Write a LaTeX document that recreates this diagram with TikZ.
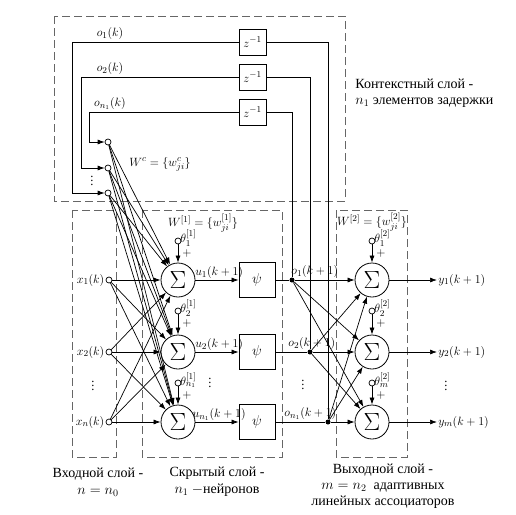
\documentclass[tikz,border=0pt]{standalone}
\usepackage{fontspec}
\setmainfont{Liberation Serif}
\usetikzlibrary{arrows.meta,calc}
\begin{document}
\begin{tikzpicture}[x=1pt,y=-1pt,
  font=\fontsize{12.5}{15}\selectfont,
  every path/.style={line width=0.7pt},
  dbox/.style={draw=black!60, line width=0.9pt, dash pattern=on 8pt off 4pt},
  sumn/.style={circle, draw, line width=0.8pt, minimum size=34pt, inner sep=0pt, fill=white, font=\fontsize{25}{25}\selectfont},
  blk/.style={draw, line width=0.8pt, minimum width=36pt, minimum height=35pt, inner sep=0pt, fill=white, font=\fontsize{14}{14}\selectfont},
  zbox/.style={draw, line width=0.8pt, minimum width=27pt, minimum height=26pt, inner sep=0pt, fill=white},
  inp/.style={circle, draw, line width=0.7pt, minimum size=6pt, inner sep=0pt, fill=white},
  jn/.style={circle, fill, minimum size=5pt, inner sep=0pt},
  arr/.style={-{Latex[length=7pt,width=5pt]}},
  lbl/.style={inner sep=1pt},
  captxt/.style={inner sep=1pt, font=\fontsize{14}{16}\selectfont},
  dts/.style={inner sep=0pt}
]
\useasboundingbox (0,0) rectangle (516,514);

% dashed layer boxes
\draw[dbox] (54,16) rectangle (345,201);
\draw[dbox] (72,210) rectangle (116,457);
\draw[dbox] (142,210) rectangle (282,457);
\draw[dbox] (336,210) rectangle (407,457);

% nodes
\node[zbox] (zb1) at (252.5,42) {$z^{-1}$};
\node[zbox] (zb2) at (252.5,77) {$z^{-1}$};
\node[zbox] (zb3) at (252.5,112) {$z^{-1}$};

\node[inp] (c1) at (108,142) {};
\node[inp] (c2) at (108,168) {};
\node[inp] (c3) at (108,193) {};

\node[inp] (x1) at (109,280) {};
\node[inp] (x2) at (109,352) {};
\node[inp] (x3) at (109,422) {};

\node[sumn] (hs1) at (178,280) {$\Sigma$};
\node[sumn] (hs2) at (178,352) {$\Sigma$};
\node[sumn] (hs3) at (178,422) {$\Sigma$};

\node[inp] (hb1) at (178,241) {};
\node[inp] (hb2) at (178,311) {};
\node[inp] (hb3) at (178,383) {};

\node[blk] (ps1) at (257,280) {$\psi$};
\node[blk] (ps2) at (257,352) {$\psi$};
\node[blk] (ps3) at (257,422) {$\psi$};

\node[jn] (j1) at (292,280) {};
\node[jn] (j2) at (310,352) {};
\node[jn] (j3) at (328,422) {};

\node[sumn] (os1) at (372,280) {$\Sigma$};
\node[sumn] (os2) at (372,352) {$\Sigma$};
\node[sumn] (os3) at (372,422) {$\Sigma$};

\node[inp] (ob1) at (372,241) {};
\node[inp] (ob2) at (372,311) {};
\node[inp] (ob3) at (372,383) {};

\node[anchor=west, lbl] (y1) at (437,280) {$y_1(k+1)$};
\node[anchor=west, lbl] (y2) at (437,352) {$y_2(k+1)$};
\node[anchor=west, lbl] (y3) at (437,422) {$y_m(k+1)$};

% context feedback lines
\draw[arr] (zb1.west) -| ([xshift=-36pt]c3.center) -- (c3);
\draw[arr] (zb2.west) -| ([xshift=-27pt]c2.center) -- (c2);
\draw[arr] (zb3.west) -| ([xshift=-19pt]c1.center) -- (c1);
\draw (zb1.east) -| (j3);
\draw (zb2.east) -| (j2);
\draw (zb3.east) -| (j1);

\node[anchor=south, lbl] (lo1) at (110,41) {$o_1(k)$};
\node[anchor=south, lbl] (lo2) at (110,76) {$o_2(k)$};
\node[anchor=south, lbl] (lo3) at (110,111) {$o_{n_1}(k)$};

% inputs to hidden
\foreach \s in {c1,c2,c3,x1,x2,x3}{
  \foreach \t in {hs1,hs2,hs3}{
    \draw[arr] (\s) -- (\t);
  }
}

% biases hidden
\draw[arr] (hb1) -- (hs1);
\draw[arr] (hb2) -- (hs2);
\draw[arr] (hb3) -- (hs3);
\node[anchor=west, lbl] (th1) at ($(hb1)+(1,-3)$) {$\theta_1^{[1]}$};
\node[anchor=west, lbl] (th2) at ($(hb2)+(1,-3)$) {$\theta_2^{[1]}$};
\node[anchor=west, lbl] (th3) at ($(hb3)+(1,-3)$) {$\theta_{n_1}^{[1]}$};
\node[lbl] (p1) at ($(hb1)+(9,12)$) {$+$};
\node[lbl] (p2) at ($(hb2)+(9,12)$) {$+$};
\node[lbl] (p3) at ($(hb3)+(9,12)$) {$+$};

% hidden to psi
\draw[arr] (hs1) -- node[above, lbl, pos=0.55] {$u_1(k+1)$} (ps1);
\draw[arr] (hs2) -- node[above, lbl, pos=0.55] {$u_2(k+1)$} (ps2);
\draw[arr] (hs3) -- node[above, lbl, pos=0.55] {$u_{n_1}(k+1)$} (ps3);

% psi to junctions
\draw (ps1) -- (j1);
\draw (ps2) -- (j2);
\draw (ps3) -- (j3);

\node[anchor=south west, lbl] (lj1) at (290,279) {$o_1(k+1)$};
\node[anchor=south west, lbl] (lj2) at (287,351) {$o_2(k+1)$};
\node[anchor=south west, lbl] (lj3) at (283,421) {$o_{n_1}(k+1)$};

% junctions to output sums
\foreach \s in {j1,j2,j3}{
  \foreach \t in {os1,os2,os3}{
    \draw[arr] (\s) -- (\t);
  }
}

% biases output
\draw[arr] (ob1) -- (os1);
\draw[arr] (ob2) -- (os2);
\draw[arr] (ob3) -- (os3);
\node[anchor=west, lbl] (tho1) at ($(ob1)+(1,-3)$) {$\theta_1^{[2]}$};
\node[anchor=west, lbl] (tho2) at ($(ob2)+(1,-3)$) {$\theta_2^{[2]}$};
\node[anchor=west, lbl] (tho3) at ($(ob3)+(1,-3)$) {$\theta_m^{[2]}$};
\node[lbl] (po1) at ($(ob1)+(9,12)$) {$+$};
\node[lbl] (po2) at ($(ob2)+(9,12)$) {$+$};
\node[lbl] (po3) at ($(ob3)+(9,12)$) {$+$};

% outputs
\draw[arr] (os1) -- (y1);
\draw[arr] (os2) -- (y2);
\draw[arr] (os3) -- (y3);

% input labels
\node[anchor=east, lbl] (lx1) at (x1.west) {$x_1(k)$};
\node[anchor=east, lbl] (lx2) at (x2.west) {$x_2(k)$};
\node[anchor=east, lbl] (lx3) at (x3.west) {$x_n(k)$};

% dots
\node[dts] (d1) at (92,178) {$\vdots$};
\node[dts] (d2) at (93,383) {$\vdots$};
\node[dts] (d3) at (210,380) {$\vdots$};
\node[dts] (d4) at (303,382) {$\vdots$};
\node[dts] (d5) at (446,383) {$\vdots$};

% weight labels
\node (wc) at (160,164) {$W^c=\{w_{ji}^c\}$};
\node (w1) at (203,223) {$W^{[1]}=\{w_{ji}^{[1]}\}$};
\node (w2) at (372,222) {$W^{[2]}=\{w_{ji}^{[2]}\}$};

% layer captions
\node[anchor=west, align=left, captxt] (ctx) at (354,93) {Контекстный слой -\\$n_1$ элементов задержки};
\node[align=center, captxt] (inl) at (98,482) {Входной слой -\\[1pt]$n=n_0$};
\node[align=center, captxt] (hdl) at (217,482) {Скрытый слой -\\[1pt]$n_1$ $-$нейронов};
\node[align=center, captxt] (oul) at (383,486) {Выходной слой -\\$m=n_2$\ \ адаптивных\\линейных ассоциаторов};
\end{tikzpicture}
\end{document}
